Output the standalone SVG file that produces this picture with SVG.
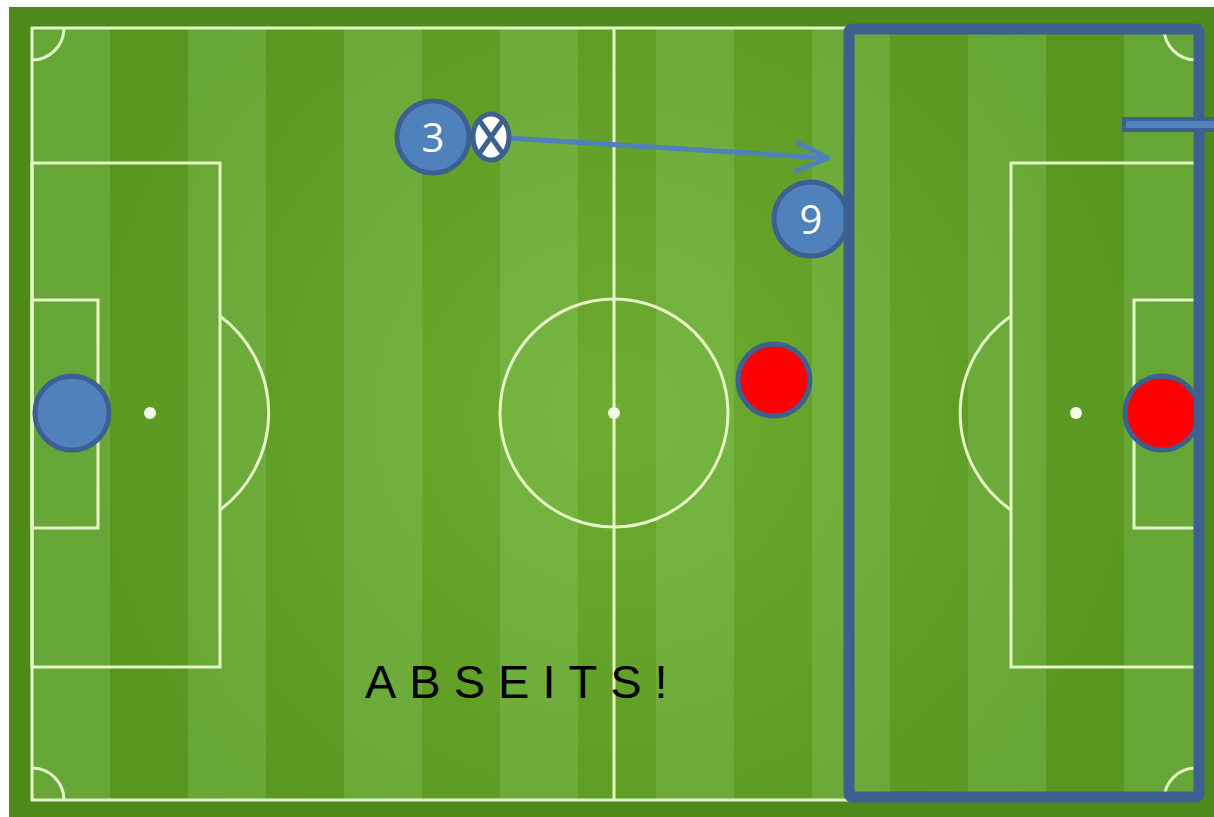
<svg xmlns="http://www.w3.org/2000/svg" width="1214" height="817" viewBox="0 0 1214 817">
<defs>
<style>
.ln{fill:none;stroke:#e6f5c6;stroke-width:3}
.lt{fill:#66a636}
.dk{fill:#58961f}
.spot{fill:#f4fbe6}
.pl{stroke:#3d6090;stroke-width:5}
.blue{fill:#4f81bd}
.red{fill:#ff0000}
.num{font-family:"Open Sans","Liberation Sans",Arial,sans-serif;font-size:40px;fill:#ffffff;text-anchor:middle}
</style>
<radialGradient id="glow" cx="614" cy="413" r="560" gradientUnits="userSpaceOnUse">
<stop offset="0" stop-color="#a8e060" stop-opacity="0.28"/>
<stop offset="1" stop-color="#a8e060" stop-opacity="0"/>
</radialGradient>
</defs>
<rect width="1214" height="817" fill="#ffffff"/>
<rect x="9" y="7" width="1205" height="810" fill="#4e891c"/>
<g id="pitch">
<rect x="32" y="28" width="1164" height="772" class="lt"/>
<rect x="110" y="28" width="78" height="772" class="dk"/>
<rect x="266" y="28" width="78" height="772" class="dk"/>
<rect x="422" y="28" width="78" height="772" class="dk"/>
<rect x="578" y="28" width="78" height="772" class="dk"/>
<rect x="734" y="28" width="78" height="772" class="dk"/>
<rect x="890" y="28" width="78" height="772" class="dk"/>
<rect x="1046" y="28" width="78" height="772" class="dk"/>
<rect x="32" y="28" width="1164" height="772" fill="url(#glow)"/>
<rect x="32" y="28" width="1164" height="772" class="ln"/>
<line x1="614" y1="28" x2="614" y2="800" class="ln"/>
<circle cx="614" cy="413" r="114" class="ln"/>
<circle cx="614" cy="413" r="6" class="spot"/>
<rect x="32" y="163" width="188" height="504" class="ln"/>
<rect x="32" y="300" width="66" height="228" class="ln"/>
<circle cx="150" cy="413" r="6" class="spot"/>
<path d="M220 316 A121 121 0 0 1 220 510" class="ln"/>
<rect x="1011" y="163" width="185" height="504" class="ln"/>
<rect x="1134" y="300" width="62" height="228" class="ln"/>
<circle cx="1076" cy="413" r="6" class="spot"/>
<path d="M1011 316 A118 118 0 0 0 1011 510" class="ln"/>
<path d="M32 60 A32 32 0 0 0 64 28" class="ln"/>
<path d="M32 768 A32 32 0 0 1 64 800" class="ln"/>
<path d="M1196 60 A32 32 0 0 1 1164 28" class="ln"/>
<path d="M1196 768 A32 32 0 0 0 1164 800" class="ln"/>
</g>
<g id="connectors">
<line x1="508" y1="138" x2="827" y2="158" stroke="#4f81bd" stroke-width="5"/>
<polyline points="798,143 828,158 796,171" fill="none" stroke="#4f81bd" stroke-width="5" stroke-linecap="round" stroke-linejoin="round"/>
</g>
<g id="player3">
<circle cx="433" cy="137" r="36" class="blue pl"/>
<text x="433" y="152" class="num">3</text>
</g>
<g id="ball">
<ellipse cx="491" cy="137" rx="18" ry="23" fill="#ffffff" stroke="#3d6090" stroke-width="5"/>
<line x1="479" y1="120" x2="503" y2="154" stroke="#3d6090" stroke-width="5"/>
<line x1="503" y1="120" x2="479" y2="154" stroke="#3d6090" stroke-width="5"/>
</g>
<g id="player9">
<circle cx="811" cy="219" r="37" class="blue pl"/>
<text x="811" y="234" class="num">9</text>
</g>
<g id="defender">
<circle cx="774" cy="380" r="36" class="red pl"/>
</g>
<g id="keeper-left">
<circle cx="72" cy="413" r="37" class="blue pl"/>
</g>
<g id="keeper-right">
<circle cx="1162" cy="413" r="37" class="red pl"/>
</g>
<g id="offside-zone">
<rect x="849" y="29" width="350" height="768" rx="3" fill="none" stroke="#3d6090" stroke-width="11"/>
<rect x="1124" y="119" width="100" height="11" fill="#4f81bd" stroke="#3d6090" stroke-width="4"/>
</g>
<text x="365" y="698" font-family="'Liberation Sans',Arial,sans-serif" font-size="47" letter-spacing="13" fill="#000000">ABSEITS!</text>
</svg>
